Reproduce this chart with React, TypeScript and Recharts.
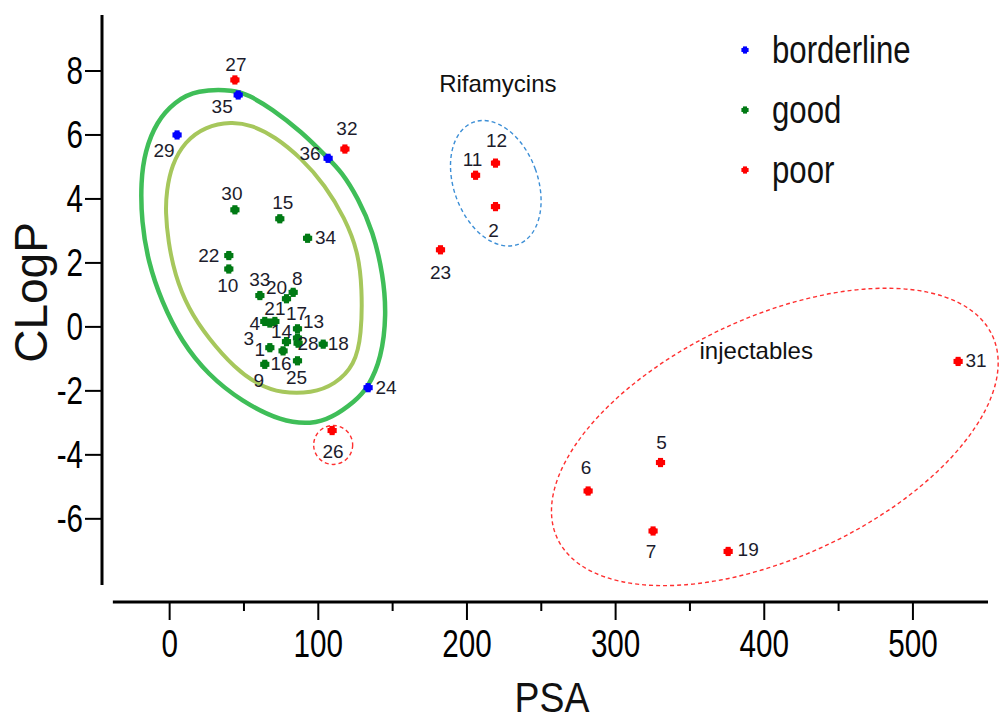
import React from "react";
import {
  ComposedChart,
  XAxis,
  YAxis,
  Scatter,
  Line,
  Legend,
  Label,
  ReferenceDot,
  ReferenceLine,
} from "recharts";

type Pt = { id: number; x: number; y: number };

// PSA (x) and CLogP (y)
const BORDERLINE: Pt[] = [
  { id: 29, x: 5.0, y: 6.0 },
  { id: 35, x: 46.1, y: 7.25 },
  { id: 36, x: 106.6, y: 5.27 },
  { id: 24, x: 133.5, y: -1.9 },
];

const GOOD: Pt[] = [
  { id: 30, x: 43.9, y: 3.66 },
  { id: 15, x: 74.1, y: 3.38 },
  { id: 34, x: 92.8, y: 2.77 },
  { id: 22, x: 39.8, y: 2.23 },
  { id: 10, x: 39.8, y: 1.81 },
  { id: 33, x: 60.7, y: 0.98 },
  { id: 20, x: 78.6, y: 0.88 },
  { id: 8, x: 83.1, y: 1.08 },
  { id: 21, x: 70.8, y: 0.17 },
  { id: 4, x: 64.0, y: 0.17 },
  { id: 3, x: 67.4, y: 0.12 },
  { id: 14, x: 78.6, y: -0.46 },
  { id: 17, x: 86.0, y: -0.06 },
  { id: 13, x: 86.0, y: -0.35 },
  { id: 28, x: 86.4, y: -0.51 },
  { id: 18, x: 103.3, y: -0.54 },
  { id: 1, x: 67.4, y: -0.65 },
  { id: 16, x: 76.3, y: -0.75 },
  { id: 9, x: 64.0, y: -1.17 },
  { id: 25, x: 86.0, y: -1.06 },
];

const POOR: Pt[] = [
  { id: 27, x: 43.9, y: 7.72 },
  { id: 32, x: 117.9, y: 5.56 },
  { id: 26, x: 109.3, y: -3.24 },
  { id: 12, x: 219.2, y: 5.12 },
  { id: 11, x: 205.8, y: 4.74 },
  { id: 2, x: 219.2, y: 3.76 },
  { id: 23, x: 182.2, y: 2.41 },
  { id: 31, x: 530.4, y: -1.08 },
  { id: 5, x: 330.2, y: -4.24 },
  { id: 6, x: 281.5, y: -5.13 },
  { id: 7, x: 325.2, y: -6.38 },
  { id: 19, x: 375.7, y: -7.02 },
];

const SERIES_NAMES = ["borderline", "good", "poor"];

// contour lines
const OUTER_CONTOUR = [
  { x: 18.1, y: 7.41 }, { x: 3.5, y: 7.04 }, { x: -8.8, y: 6.42 }, { x: -16.7, y: 5.48 },
  { x: -19.4, y: 4.54 }, { x: -18.9, y: 3.29 }, { x: -14.5, y: 2.04 }, { x: -5.4, y: 0.79 },
  { x: 8.0, y: -0.46 }, { x: 25.9, y: -1.5 }, { x: 48.4, y: -2.33 }, { x: 75.3, y: -2.96 },
  { x: 95.5, y: -3.04 }, { x: 108.9, y: -2.85 }, { x: 124.6, y: -2.33 }, { x: 133.5, y: -1.9 },
  { x: 142.5, y: -0.98 }, { x: 145.9, y: 0.38 }, { x: 143.6, y: 1.63 }, { x: 136.9, y: 2.98 },
  { x: 126.8, y: 4.02 }, { x: 115.6, y: 4.85 }, { x: 106.6, y: 5.27 }, { x: 88.7, y: 6.1 },
  { x: 68.5, y: 6.83 }, { x: 52.8, y: 7.25 }, { x: 43.9, y: 7.41 },
];

const INNER_CONTOUR = [
  { x: 41.6, y: 6.42 }, { x: 23.7, y: 6.26 }, { x: 10.2, y: 5.79 }, { x: 1.3, y: 5.06 },
  { x: -2.1, y: 4.23 }, { x: -2.8, y: 3.6 }, { x: -1.0, y: 2.67 }, { x: 3.5, y: 1.63 },
  { x: 12.4, y: 0.58 }, { x: 25.9, y: -0.35 }, { x: 43.9, y: -1.29 }, { x: 59.5, y: -1.81 },
  { x: 75.3, y: -2.07 }, { x: 95.5, y: -2.07 }, { x: 111.1, y: -1.81 }, { x: 124.6, y: -1.19 },
  { x: 129.1, y: -0.25 }, { x: 129.5, y: 1.21 }, { x: 126.8, y: 2.35 }, { x: 117.9, y: 3.4 },
  { x: 104.4, y: 4.44 }, { x: 88.7, y: 5.27 }, { x: 70.8, y: 5.95 }, { x: 55.1, y: 6.31 },
];

const X_TICKS = [0, 50, 100, 150, 200, 250, 300, 350, 400, 450, 500];
const Y_TICKS = [-6, -4, -2, 0, 2, 4, 6, 8];

const RIFAMYCINS_CENTER = { x: 219.4, y: 4.49 };
const INJECTABLES_CENTER = { x: 407.1, y: -3.44 };
const CIRCLE_26_CENTER = { x: 110, y: -3.69 };
const GROUP_NOTES = [
  { text: "Rifamycins", x: 220.8, y: 7.35 },
  { text: "injectables", x: 394.6, y: -1.01 },
];

// label offsets in px (label centre relative to the marker)
const LABEL_OFFSET: Record<number, [number, number]> = {
  27: [1, -16], 35: [-16, 11], 29: [-13, 15], 36: [-18, -5], 32: [2, -21],
  30: [-3, -17], 15: [3, -17], 34: [18, -1], 22: [-20, -1], 10: [-1, 16],
  33: [0, -17], 20: [-10, -12], 8: [4, -14], 21: [0, -13], 4: [-10, 2],
  3: [-21, 15], 14: [-5, -11], 17: [-1, -16], 13: [16, -17], 28: [10, 0],
  18: [15, -1], 1: [-10, 1], 16: [-2, 12], 9: [-6, 16], 25: [-1, 16],
  24: [18, -1], 26: [1, 20], 12: [1, -23], 11: [-3, -16], 2: [-2, 23],
  23: [0, 22], 31: [18, -1], 5: [1, -21], 6: [-2, -24], 7: [-2, 20], 19: [20, -2],
};

const SANS = "'Liberation Sans', Arial, sans-serif";
const SQUEEZE = 0.78; // the axis font is tall and narrow

const BLUE = "#0000ff";
const GREEN = "#007a14";
const RED = "#ff0000";

function Blob({ cx, cy, fill, size = 4.6 }: { cx: number; cy: number; fill: string; size?: number }) {
  const t = size * 0.55;
  return (
    <g fill={fill}>
      <rect x={cx - size} y={cy - t} width={size * 2} height={t * 2} />
      <rect x={cx - t} y={cy - size} width={t * 2} height={size * 2} />
      <circle cx={cx} cy={cy} r={size * 0.82} />
    </g>
  );
}

const pointShape = (color: string) => (props: any) => {
  const { cx, cy, payload } = props;
  const off = LABEL_OFFSET[payload.id] ?? [0, -16];
  return (
    <g>
      <Blob cx={cx} cy={cy} fill={color} />
      <text
        x={cx + off[0]}
        y={cy + off[1] + 7}
        textAnchor="middle"
        fontFamily={SANS}
        fontSize={19}
        fill="#1c1c2c"
      >
        {payload.id}
      </text>
    </g>
  );
};

const ellipseShape =
  (rx: number, ry: number, rot: number, stroke: string) => (p: any) => (
    <ellipse
      cx={p.cx}
      cy={p.cy}
      rx={rx}
      ry={ry}
      transform={`rotate(${rot} ${p.cx} ${p.cy})`}
      fill="none"
      stroke={stroke}
      strokeWidth={1.4}
      strokeDasharray="4 3"
    />
  );

function XTick(props: any) {
  const { x, y, payload } = props;
  const major = payload.value % 100 === 0;
  return (
    <g>
      <line x1={x} y1={y} x2={x} y2={y + (major ? 18 : 9)} stroke="#000" strokeWidth={2} />
      {major && (
        <text
          transform={`translate(${x} ${y + 55}) scale(${SQUEEZE} 1)`}
          textAnchor="middle"
          fontFamily={SANS}
          fontSize={38}
          fill="#000"
        >
          {payload.value}
        </text>
      )}
    </g>
  );
}

function YTick(props: any) {
  const { x, y, payload } = props;
  return (
    <g>
      <line x1={x - 17} y1={y} x2={x} y2={y} stroke="#000" strokeWidth={2} />
      <text
        transform={`translate(${x - 19} ${y + 13.5}) scale(${SQUEEZE} 1)`}
        textAnchor="end"
        fontFamily={SANS}
        fontSize={38}
        fill="#000"
      >
        {payload.value}
      </text>
    </g>
  );
}

function LegendBox({ payload }: any) {
  const items = (payload ?? []).filter((p: any) => SERIES_NAMES.includes(p.value));
  return (
    <div style={{ position: "relative", width: 230, height: 160 }}>
      {items.map((p: any, i: number) => (
        <div
          key={p.value}
          style={{ position: "absolute", left: 0, top: i * 60, height: 38, display: "flex", alignItems: "center" }}
        >
          <svg width={14} height={14} style={{ marginLeft: 3 }}>
            <Blob cx={7} cy={7} fill={p.color} size={3.6} />
          </svg>
          <span
            style={{
              marginLeft: 20,
              fontFamily: SANS,
              fontSize: 38,
              lineHeight: "38px",
              color: "#111",
              display: "inline-block",
              transform: "scaleX(0.82)",
              transformOrigin: "left center",
              whiteSpace: "nowrap",
            }}
          >
            {p.value}
          </span>
        </div>
      ))}
    </div>
  );
}

export default function App() {
  return (
    <div style={{ position: "absolute", left: 0, top: 0, width: 1000, height: 722, background: "#fff" }}>
      <ComposedChart width={1000} height={722} margin={{ top: 15, right: 12, bottom: 0, left: 0 }}>
        <XAxis
          type="number"
          dataKey="x"
          domain={[-45.5, 550.5]}
          allowDataOverflow
          ticks={X_TICKS}
          interval={0}
          height={120}
          axisLine={false}
          tickLine={false}
          tickSize={0}
          tickMargin={0}
          tick={<XTick />}
        >
          <Label
            content={({ viewBox }: any) => {
              const cx = viewBox.x + viewBox.width / 2 + 7;
              const by = viewBox.y + 110;
              return (
                <text
                  transform={`translate(${cx} ${by}) scale(0.89 1)`}
                  textAnchor="middle"
                  fontFamily={SANS}
                  fontSize={42}
                  fill="#111"
                >
                  PSA
                </text>
              );
            }}
          />
        </XAxis>
        <YAxis
          type="number"
          dataKey="y"
          domain={[-8.6, 9.75]}
          allowDataOverflow
          ticks={Y_TICKS}
          interval={0}
          width={102}
          axisLine={false}
          tickLine={false}
          tickSize={0}
          tickMargin={0}
          tick={<YTick />}
        >
          <Label
            content={({ viewBox }: any) => {
              const cy = viewBox.y + viewBox.height / 2 - 16;
              return (
                <text
                  x={47}
                  y={cy}
                  transform={`rotate(-90 47 ${cy})`}
                  textAnchor="middle"
                  fontFamily={SANS}
                  fontSize={46}
                  fill="#111"
                >
                  CLogP
                </text>
              );
            }}
          />
        </YAxis>

        <ReferenceLine
          segment={[{ x: -45.5, y: -8.07 }, { x: -45.5, y: 9.75 }]}
          stroke="#000"
          strokeWidth={3}
          ifOverflow="visible"
        />
        <ReferenceLine
          segment={[{ x: -38.2, y: -8.6 }, { x: 550.5, y: -8.6 }]}
          stroke="#000"
          strokeWidth={3}
          ifOverflow="visible"
        />

        <Line
          data={OUTER_CONTOUR}
          dataKey="y"
          type="basisClosed"
          stroke="#3fbe58"
          strokeWidth={4.5}
          dot={false}
          activeDot={false}
          legendType="none"
          isAnimationActive={false}
        />
        <Line
          data={INNER_CONTOUR}
          dataKey="y"
          type="basisClosed"
          stroke="#a6c75c"
          strokeWidth={4}
          dot={false}
          activeDot={false}
          legendType="none"
          isAnimationActive={false}
        />

        <ReferenceDot
          x={RIFAMYCINS_CENTER.x}
          y={RIFAMYCINS_CENTER.y}
          shape={ellipseShape(42, 65, -20, "#3d8fd6")}
        />
        <ReferenceDot
          x={INJECTABLES_CENTER.x}
          y={INJECTABLES_CENTER.y}
          shape={ellipseShape(240, 120, -25, "#ff3030")}
        />
        <ReferenceDot
          x={CIRCLE_26_CENTER.x}
          y={CIRCLE_26_CENTER.y}
          shape={ellipseShape(19.5, 19.5, 0, "#ff3030")}
        />
        {GROUP_NOTES.map((n) => (
          <ReferenceDot
            key={n.text}
            x={n.x}
            y={n.y}
            shape={(p: any) => (
              <text x={p.cx} y={p.cy} textAnchor="middle" fontFamily={SANS} fontSize={24} fill="#111">
                {n.text}
              </text>
            )}
          />
        ))}

        <Scatter name="borderline" data={BORDERLINE} fill={BLUE} shape={pointShape(BLUE)} isAnimationActive={false} />
        <Scatter name="good" data={GOOD} fill={GREEN} shape={pointShape(GREEN)} isAnimationActive={false} />
        <Scatter name="poor" data={POOR} fill={RED} shape={pointShape(RED)} isAnimationActive={false} />

        <Legend
          layout="vertical"
          align="center"
          verticalAlign="middle"
          wrapperStyle={{ left: 735, top: 31, width: 230, height: 160 }}
          content={<LegendBox />}
        />
      </ComposedChart>
    </div>
  );
}
